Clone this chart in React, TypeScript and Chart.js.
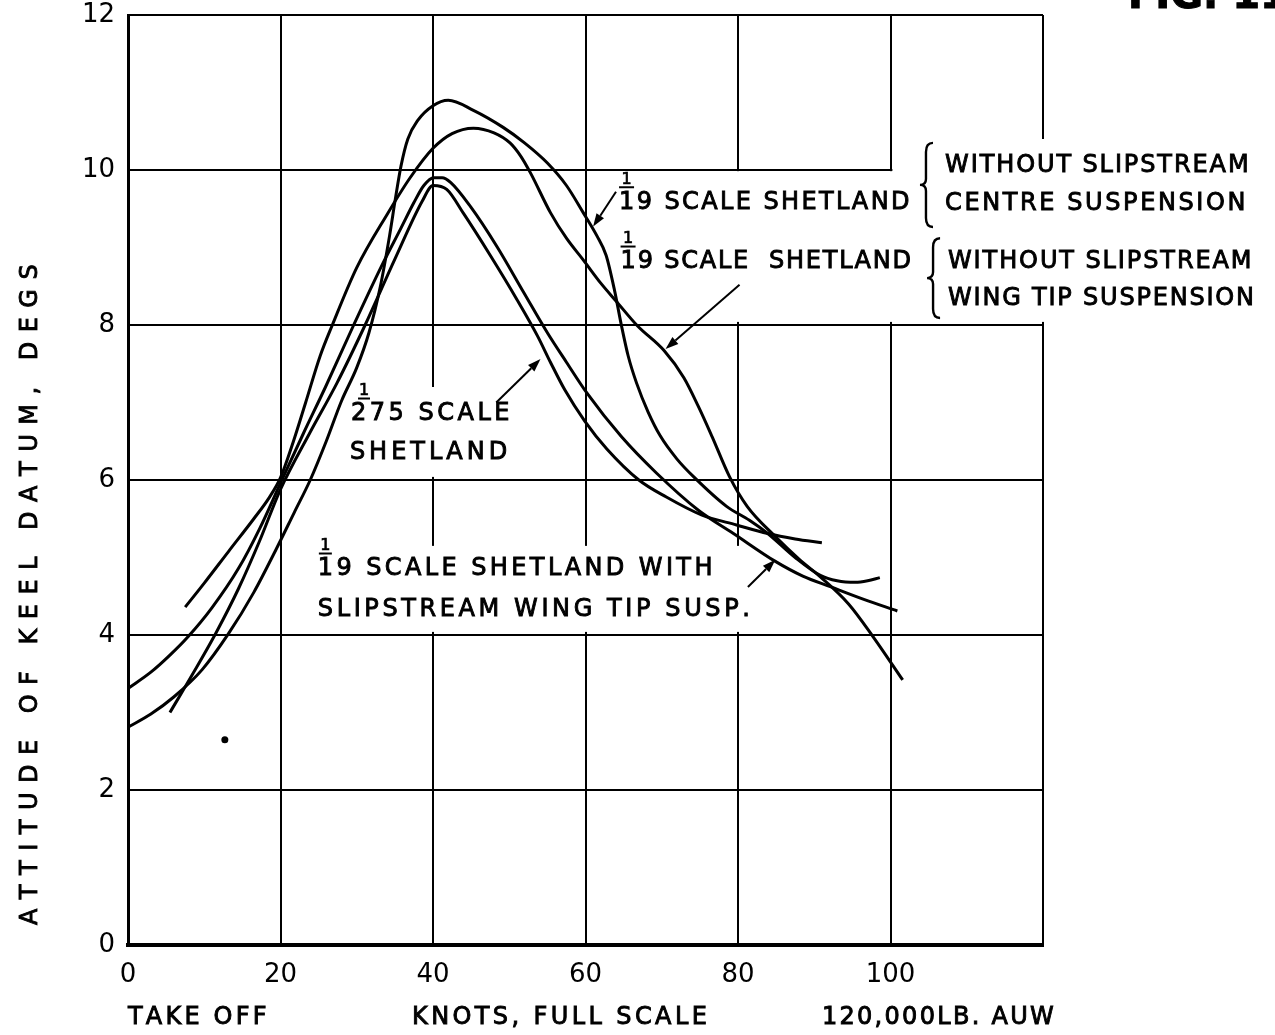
import React, { useEffect, useRef } from 'react';
import { Chart, registerables } from 'chart.js';

Chart.register(...registerables);

const FONT = '"DejaVu Sans", "Liberation Sans", sans-serif';

// ---- axis ticks ----
const X_MIN = 0;
const X_MAX = 120;
const X_STEP = 20;
const Y_MIN = 0;
const Y_MAX = 12;
const Y_STEP = 2;

// ---- curves (knots full scale, attitude degs) ----
// 1/19 scale, without slipstream, centre suspension (tallest peak)
const centreX = [0, 3, 6, 9.7, 13.2, 16.5, 19.4, 21.8, 23.9, 26, 28, 30, 31.6, 33.1, 34.3, 35.1, 35.8, 36.7, 38, 40, 42, 45.3, 49.2, 52, 55, 57.5, 59.7, 61.5, 62.7, 63.8, 64.7, 65.6, 66.7, 68.2, 69.8, 72, 74.2, 78.5, 81.5, 83.9, 87.5, 90.8, 93, 95.4, 97, 98.6];
const centreY = [2.81, 2.98, 3.2, 3.55, 4.02, 4.55, 5.1, 5.58, 6.0, 6.5, 7.02, 7.45, 7.9, 8.5, 9.15, 9.65, 10.05, 10.4, 10.64, 10.83, 10.9, 10.77, 10.55, 10.35, 10.09, 9.8, 9.45, 9.15, 8.9, 8.45, 8.0, 7.6, 7.25, 6.88, 6.57, 6.27, 6.04, 5.66, 5.48, 5.31, 5.0, 4.77, 4.7, 4.68, 4.7, 4.74];

// 1/19 scale, without slipstream, wing tip suspension
const wingTipX = [7.5, 10, 13.2, 16.5, 18.5, 20, 21.7, 23.3, 25.2, 26.8, 30, 34, 37, 40, 42.5, 45.3, 48, 50.1, 51.5, 52.8, 55.4, 57.5, 59.7, 62, 64, 66.8, 70.3, 72.9, 74.8, 76.6, 78.9, 81.2, 84.9, 88, 90.8, 94.5, 97.7, 101.6];
const wingTipY = [4.36, 4.67, 5.08, 5.5, 5.77, 6.03, 6.5, 7.0, 7.6, 8.0, 8.74, 9.43, 9.9, 10.28, 10.47, 10.54, 10.48, 10.35, 10.18, 9.96, 9.45, 9.12, 8.84, 8.54, 8.31, 7.99, 7.67, 7.32, 6.95, 6.56, 6.04, 5.66, 5.27, 4.98, 4.75, 4.4, 3.98, 3.42];

// 1/19 scale with slipstream, wing tip suspension
const slipX = [0, 3, 5.5, 7.9, 11, 14.5, 17.3, 20, 23, 25.9, 29.6, 33.2, 35.8, 37.5, 38.8, 40.1, 41.2, 42.3, 44.9, 48.4, 51.9, 55, 57.5, 60.2, 64.7, 69.3, 74.8, 79.4, 84.9, 88.5, 92.2, 96.5, 100.9];
const slipY = [3.31, 3.52, 3.74, 3.98, 4.35, 4.86, 5.38, 5.96, 6.6, 7.2, 8.0, 8.75, 9.25, 9.58, 9.8, 9.9, 9.9, 9.84, 9.53, 9.01, 8.42, 7.9, 7.52, 7.12, 6.56, 6.09, 5.61, 5.31, 4.95, 4.76, 4.62, 4.46, 4.31];

// 1/275 scale
const smallX = [5.5, 8.5, 11.5, 14.5, 17.2, 20, 23.8, 27.4, 31.1, 35, 38.6, 40, 41.8, 44, 47.5, 51, 53.7, 55.4, 57.3, 59.9, 62.8, 67, 70.6, 75.2, 79.8, 83.9, 87.5, 91];
const smallY = [3.0, 3.5, 4.02, 4.6, 5.2, 5.88, 6.6, 7.25, 8.0, 8.85, 9.6, 9.8, 9.75, 9.44, 8.9, 8.33, 7.86, 7.52, 7.16, 6.76, 6.4, 6.0, 5.78, 5.55, 5.42, 5.31, 5.24, 5.19];

// isolated speck
const speckX = [12.7];
const speckY = [2.65];

// ---- annotations (data coordinates) ----
const GRID_GAPS: [number, number, number, number][] = [
  [77, 121, 8.04, 9.985],
  [100.25, 121, 9.95, 10.4],
  [39.2, 40.8, 6.04, 7.2],
  [24, 81, 4.04, 5.15],
];

const FRACTION_LABELS = [
  { x: 64.4, y: 9.5, den: '19', rest: ' SCALE SHETLAND', spacing: 2.4, bar: [0, 15] },
  { x: 64.6, y: 8.735, den: '19', rest: ' SCALE  SHETLAND', spacing: 1.8, bar: [0, 15] },
  { x: 29.25, y: 6.774, den: '275', rest: ' SCALE', spacing: 3.5, bar: [7, 19] },
  { x: 24.9, y: 4.774, den: '19', rest: ' SCALE SHETLAND WITH', spacing: 3.4, bar: [1, 14] },
];

const PLAIN_LABELS = [
  { text: 'WITHOUT SLIPSTREAM', x: 107.15, y: 9.974, spacing: 1.9 },
  { text: 'CENTRE SUSPENSION', x: 107.15, y: 9.484, spacing: 2.6 },
  { text: 'WITHOUT SLIPSTREAM', x: 107.54, y: 8.735, spacing: 1.9 },
  { text: 'WING TIP SUSPENSION', x: 107.54, y: 8.258, spacing: 1.8 },
  { text: 'SHETLAND', x: 29.1, y: 6.27, spacing: 4 },
  { text: 'SLIPSTREAM WING TIP SUSP.', x: 24.9, y: 4.245, spacing: 3.6 },
];

const BRACES = [
  { x: 105.57, y0: 9.265, y1: 10.35 },
  { x: 106.5, y0: 8.09, y1: 9.12 },
];

const ARROWS = [
  { from: [64.0, 9.72], to: [61.0, 9.27] },
  { from: [80.2, 8.52], to: [70.5, 7.69] },
  { from: [48.3, 7.0], to: [54.1, 7.56] },
  { from: [81.3, 4.62], to: [84.9, 4.97] },
];

const BOTTOM_LABELS = [
  { text: 'TAKE OFF', x: 0, spacing: 3.2 },
  { text: 'KNOTS, FULL SCALE', x: 37.25, spacing: 3.4 },
  { text: '120,000LB. AUW', x: 91.0, spacing: 2.3 },
];

const Y_TITLE = { text: 'ATTITUDE OF KEEL DATUM, DEGS', x: -12.7, y: 4.52, spacing: 9.5 };

const toPts = (xs: number[], ys: number[]) => xs.map((x, i) => ({ x, y: ys[i] }));

function spacedText(
  ctx: CanvasRenderingContext2D,
  text: string,
  x: number,
  y: number,
  spacing: number,
  align: 'left' | 'center' = 'left'
) {
  const chars = [...text];
  const widths = chars.map((c) => ctx.measureText(c).width);
  const total = widths.reduce((a, b) => a + b, 0) + spacing * (chars.length - 1);
  let cx = align === 'left' ? x : x - total / 2;
  ctx.textAlign = 'left';
  chars.forEach((c, i) => {
    ctx.fillText(c, cx, y);
    ctx.strokeText(c, cx, y);
    cx += widths[i] + spacing;
  });
  return cx;
}

const overlayPlugin = {
  id: 'overlay',
  beforeDatasetsDraw(chart: any) {
    const { ctx, chartArea } = chart;
    const xs = chart.scales.x;
    const ys = chart.scales.y;
    const px = (v: number) => xs.getPixelForValue(v);
    const py = (v: number) => ys.getPixelForValue(v);
    ctx.save();
    // gaps in the grid behind lettering
    ctx.fillStyle = '#fff';
    GRID_GAPS.forEach(([x0, x1, y0, y1]) => {
      ctx.fillRect(px(x0), py(y1), px(x1) - px(x0), py(y0) - py(y1));
    });

    ctx.fillStyle = '#000';
    ctx.strokeStyle = '#000';
    ctx.textBaseline = 'alphabetic';
    ctx.lineWidth = 0.9;
    ctx.font = `24px ${FONT}`;

    PLAIN_LABELS.forEach((l) => spacedText(ctx, l.text, px(l.x), py(l.y), l.spacing));

    FRACTION_LABELS.forEach((l) => {
      const x0 = px(l.x);
      const y0 = py(l.y);
      ctx.font = `24px ${FONT}`;
      ctx.lineWidth = 0.9;
      const end = spacedText(ctx, l.den, x0, y0, l.spacing);
      spacedText(ctx, l.rest, end, y0, l.spacing);
      const barY = y0 - 21.5;
      ctx.lineWidth = 2;
      ctx.beginPath();
      ctx.moveTo(x0 + l.bar[0], barY);
      ctx.lineTo(x0 + l.bar[1], barY);
      ctx.stroke();
      ctx.font = `16px ${FONT}`;
      ctx.lineWidth = 0.7;
      spacedText(ctx, '1', x0 + (l.bar[0] + l.bar[1]) / 2, barY - 3.5, 0, 'center');
    });

    // braces
    ctx.lineWidth = 2.4;
    BRACES.forEach((b) => {
      const xr = px(b.x);
      const xl = xr - 13;
      const xm = xr - 7;
      const yt = py(b.y1);
      const yb = py(b.y0);
      const ym = (yt + yb) / 2;
      ctx.beginPath();
      ctx.moveTo(xr, yt);
      ctx.quadraticCurveTo(xm, yt, xm, yt + 9);
      ctx.lineTo(xm, ym - 6);
      ctx.quadraticCurveTo(xm, ym, xl, ym);
      ctx.quadraticCurveTo(xm, ym, xm, ym + 6);
      ctx.lineTo(xm, yb - 9);
      ctx.quadraticCurveTo(xm, yb, xr, yb);
      ctx.stroke();
    });

    // bottom axis lettering
    ctx.font = `24px ${FONT}`;
    ctx.lineWidth = 0.9;
    BOTTOM_LABELS.forEach((l) => spacedText(ctx, l.text, px(l.x), chartArea.bottom + 79, l.spacing));

    // y-axis title
    ctx.save();
    ctx.translate(px(Y_TITLE.x), py(Y_TITLE.y));
    ctx.rotate(-Math.PI / 2);
    ctx.textBaseline = 'middle';
    spacedText(ctx, Y_TITLE.text, 0, 0, Y_TITLE.spacing, 'center');
    ctx.restore();

    // figure number (cut off at the page top)
    ctx.font = `bold 40px ${FONT}`;
    ctx.lineWidth = 1;
    spacedText(ctx, 'FIG. 11.', chartArea.right + 85, chartArea.top - 7, 0);

    ctx.restore();
  },
  afterDatasetsDraw(chart: any) {
    const { ctx } = chart;
    const xs = chart.scales.x;
    const ys = chart.scales.y;
    ctx.save();
    ctx.strokeStyle = '#000';
    ctx.fillStyle = '#000';
    ctx.lineWidth = 2;
    ARROWS.forEach((a) => {
      const x0 = xs.getPixelForValue(a.from[0]);
      const y0 = ys.getPixelForValue(a.from[1]);
      const x1 = xs.getPixelForValue(a.to[0]);
      const y1 = ys.getPixelForValue(a.to[1]);
      const ang = Math.atan2(y1 - y0, x1 - x0);
      const len = 13;
      const hw = 4.5;
      const bx = x1 - len * Math.cos(ang);
      const by = y1 - len * Math.sin(ang);
      ctx.beginPath();
      ctx.moveTo(x0, y0);
      ctx.lineTo(bx, by);
      ctx.stroke();
      ctx.beginPath();
      ctx.moveTo(x1, y1);
      ctx.lineTo(bx + hw * Math.sin(ang), by - hw * Math.cos(ang));
      ctx.lineTo(bx - hw * Math.sin(ang), by + hw * Math.cos(ang));
      ctx.closePath();
      ctx.fill();
    });
    ctx.restore();
  },
};

const curveStyle = {
  borderColor: '#000',
  borderWidth: 3,
  pointRadius: 0,
  fill: false,
  cubicInterpolationMode: 'monotone' as const,
};

export default function App() {
  const ref = useRef<HTMLCanvasElement>(null);

  useEffect(() => {
    if (!ref.current) return;
    const chart = new Chart(ref.current, {
      type: 'line',
      data: {
        datasets: [
          { label: '1/19 scale Shetland, without slipstream, centre suspension', data: toPts(centreX, centreY), ...curveStyle },
          { label: '1/19 scale Shetland, without slipstream, wing tip suspension', data: toPts(wingTipX, wingTipY), ...curveStyle },
          { label: '1/19 scale Shetland with slipstream, wing tip susp.', data: toPts(slipX, slipY), ...curveStyle },
          { label: '1/275 scale Shetland', data: toPts(smallX, smallY), ...curveStyle },
          {
            label: 'speck',
            data: toPts(speckX, speckY),
            showLine: false,
            pointRadius: 3.5,
            pointBackgroundColor: '#000',
            pointBorderWidth: 0,
            borderColor: '#000',
          },
        ],
      },
      options: {
        responsive: false,
        animation: false,
        events: [],
        layout: { padding: { top: 15, right: 232, bottom: 0, left: 0 } },
        plugins: { legend: { display: false }, tooltip: { enabled: false } },
        scales: {
          x: {
            type: 'linear',
            min: X_MIN,
            max: X_MAX,
            ticks: {
              stepSize: X_STEP,
              autoSkip: false,
              maxRotation: 0,
              padding: 15,
              color: '#000',
              font: { family: 'DejaVu Sans', size: 26 },
              callback: (v: any) => (Number(v) === X_MAX ? '' : String(v)),
            },
            grid: { color: '#000', lineWidth: 2, drawTicks: false },
            border: { display: true, color: '#000', width: 4 },
            afterFit: (s: any) => {
              s.height = 90;
              s.paddingLeft = 0;
              s.paddingRight = 0;
            },
          },
          y: {
            type: 'linear',
            min: Y_MIN,
            max: Y_MAX,
            ticks: {
              stepSize: Y_STEP,
              padding: 13,
              color: '#000',
              font: { family: 'DejaVu Sans', size: 26 },
            },
            grid: { color: '#000', lineWidth: 2, drawTicks: false },
            border: { display: true, color: '#000', width: 3 },
            afterFit: (s: any) => {
              s.width = 128;
              s.paddingTop = 0;
              s.paddingBottom = 0;
            },
          },
        },
      },
      plugins: [overlayPlugin],
    });
    return () => chart.destroy();
  }, []);

  return (
    <div style={{ position: 'absolute', left: 0, top: 0, width: 1275, height: 1035, background: '#fff' }}>
      <canvas ref={ref} width={1275} height={1035} style={{ display: 'block', width: 1275, height: 1035 }} />
    </div>
  );
}
